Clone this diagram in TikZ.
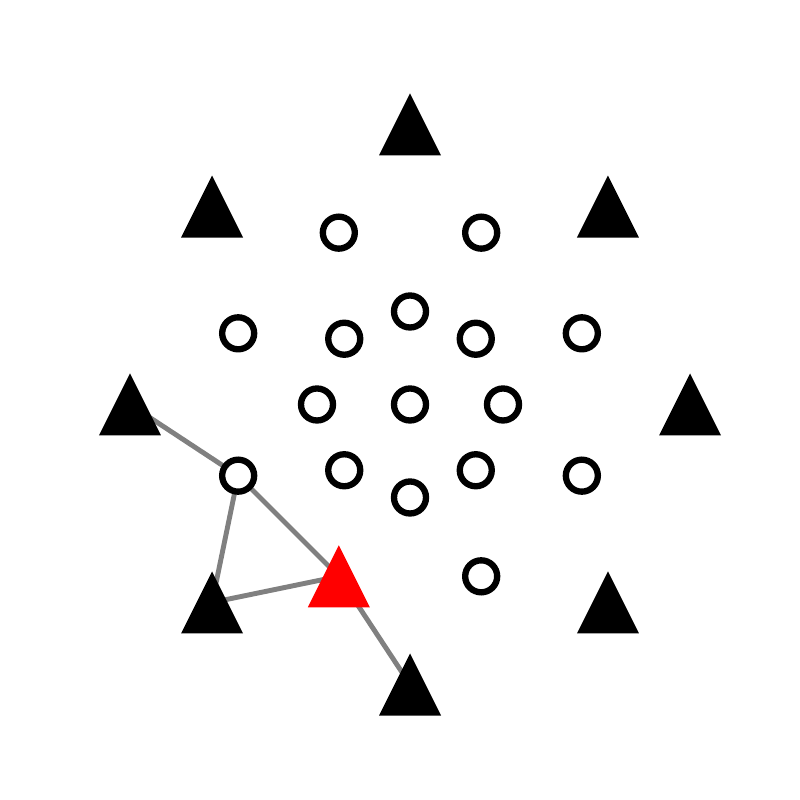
\documentclass[tikz,border=0pt]{standalone}
\definecolor{linkgray}{RGB}{128,128,128}
\usetikzlibrary{backgrounds}

\begin{document}
\begin{tikzpicture}[
  ring/.style={circle,draw,fill=white,line width=1.8pt,minimum size=0.32cm,inner sep=0pt},
  tri/.style={minimum width=0.62cm,minimum height=0.62cm,inner sep=0pt,
    path picture={\fill[#1] (path picture bounding box.south west) -- (path picture bounding box.south east) -- (path picture bounding box.north) -- cycle;}},
  tri/.default=black,
  link/.style={linkgray,line width=1.4pt}]
  \useasboundingbox (-4.10,-3.955) rectangle (3.90,4.045);
  % outer triangles
  \foreach \k in {0,...,7}
    \node[tri] (t\k) at ({45*\k}:2.8) {};
  % circles
  \node[ring] (c) at (0,0) {};
  \foreach \k in {0,...,7}
    \node[ring] (i\k) at ({45*\k}:0.93) {};
  \foreach \k in {0,1,2,3,4,6,7}
    \node[ring] (o\k) at ({22.5+45*\k}:1.86) {};
  \node[tri=red] (o5) at (247.5:1.86) {};
  % links
  \begin{scope}[on background layer]
    \draw[link] (t4.center) -- (o4.center);
    \draw[link] (o4.center) -- (o5.center);
    \draw[link] (o4.center) -- (t5.center);
    \draw[link] (t5.center) -- (o5.center);
    \draw[link] (o5.center) -- (t6.center);
  \end{scope}
\end{tikzpicture}
\end{document}
